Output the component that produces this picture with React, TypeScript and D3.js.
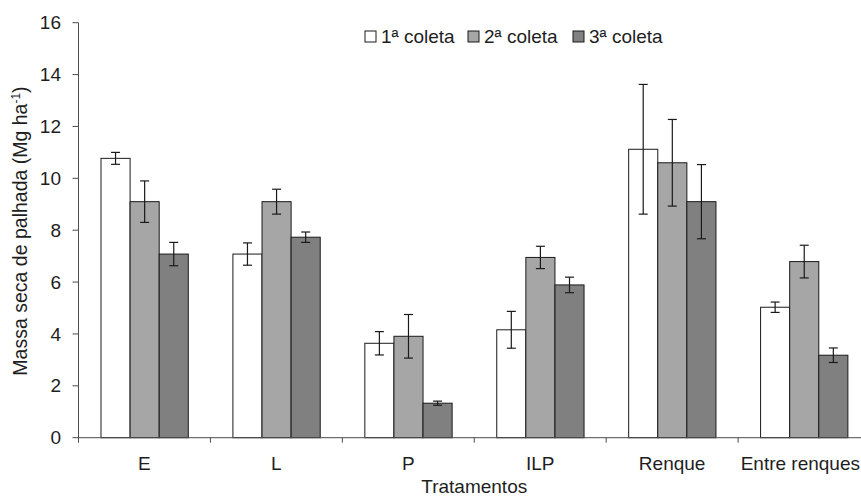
import React from "react";
import * as d3 from "d3";

const categories = ["E", "L", "P", "ILP", "Renque", "Entre renques"];
const seriesNames = ["1ª coleta", "2ª coleta", "3ª coleta"];
const coleta1 = [10.77, 7.08, 3.64, 4.16, 11.12, 5.03];
const coleta1Err = [0.23, 0.43, 0.45, 0.71, 2.5, 0.2];
const coleta2 = [9.1, 9.1, 3.91, 6.95, 10.6, 6.79];
const coleta2Err = [0.8, 0.48, 0.84, 0.43, 1.67, 0.63];
const coleta3 = [7.08, 7.73, 1.33, 5.89, 9.1, 3.18];
const coleta3Err = [0.45, 0.2, 0.08, 0.3, 1.43, 0.28];
const yTicks = [0, 2, 4, 6, 8, 10, 12, 14, 16];

const seriesValues = [coleta1, coleta2, coleta3];
const seriesErrors = [coleta1Err, coleta2Err, coleta3Err];
const fills = ["#ffffff", "#a6a6a6", "#808080"];

const W = 861;
const H = 498;
const FONT = "'Liberation Sans', Arial, sans-serif";
const TEXT = "#1e1e1e";
const AXIS = "#4d4d4d";

export default function App() {
  const x = d3.scaleBand<string>().domain(categories).range([78.5, 870]).padding(0);
  const inner = d3.scaleBand<string>().domain(seriesNames).range([22.5, 22.5 + 87.3]).padding(0);
  const y = d3.scaleLinear().domain([0, 16]).range([437.7, 22.7]);
  const bw = inner.bandwidth();
  const x0 = x.range()[0];
  const legendX = [365, 468, 573];

  return (
    <svg width={W} height={H} style={{ position: "absolute", left: 0, top: 0, background: "#fff" }} fontFamily={FONT}>
      <rect x={0} y={0} width={W} height={H} fill="#fff" />
      {/* y axis */}
      <line x1={x0} x2={x0} y1={y(16)} y2={y(0) + 5} stroke={AXIS} strokeWidth={1} />
      {yTicks.map((t) => (
        <g key={t}>
          <line x1={x0 - 6} x2={x0} y1={y(t)} y2={y(t)} stroke={AXIS} strokeWidth={1} />
          <text x={61} y={y(t)} dy="0.35em" textAnchor="end" fontSize={19} fill={TEXT}>
            {t}
          </text>
        </g>
      ))}
      {/* bars */}
      {categories.map((c, ci) => (
        <g key={c}>
          {seriesNames.map((s, si) => {
            const v = seriesValues[si][ci];
            const bx = (x(c) as number) + (inner(s) as number);
            return (
              <rect
                key={s}
                x={bx}
                y={y(v)}
                width={bw}
                height={y(0) - y(v)}
                fill={fills[si]}
                stroke="#1a1a1a"
                strokeWidth={1}
              />
            );
          })}
          {seriesNames.map((s, si) => {
            const v = seriesValues[si][ci];
            const e = seriesErrors[si][ci];
            const cx = (x(c) as number) + (inner(s) as number) + bw / 2;
            return (
              <g key={s + "e"} stroke="#1a1a1a" strokeWidth={1.2}>
                <line x1={cx} x2={cx} y1={y(v + e)} y2={y(v - e)} />
                <line x1={cx - 4.5} x2={cx + 4.5} y1={y(v + e)} y2={y(v + e)} />
                <line x1={cx - 4.5} x2={cx + 4.5} y1={y(v - e)} y2={y(v - e)} />
              </g>
            );
          })}
        </g>
      ))}
      {/* x axis */}
      <line x1={x0} x2={W} y1={y(0)} y2={y(0)} stroke={AXIS} strokeWidth={1} />
      {categories.map((c) => (
        <line key={c + "t"} x1={(x(c) as number) + x.bandwidth()} x2={(x(c) as number) + x.bandwidth()} y1={y(0)} y2={y(0) + 5} stroke={AXIS} strokeWidth={1} />
      ))}
      {categories.map((c, i) => {
        const last = i === categories.length - 1;
        return (
          <text
            key={c + "l"}
            x={last ? W - 1 : (x(c) as number) + x.bandwidth() / 2}
            y={470}
            textAnchor={last ? "end" : "middle"}
            fontSize={19}
            fill={TEXT}
          >
            {c}
          </text>
        );
      })}
      <text x={(x.range()[0] + x.range()[1]) / 2} y={493} textAnchor="middle" fontSize={19} fill={TEXT}>
        Tratamentos
      </text>
      <text transform={`translate(27, ${231}) rotate(-90)`} textAnchor="middle" fontSize={19.5} fill={TEXT}>
        Massa seca de palhada  (Mg ha
        <tspan fontSize={12} dy={-7}>-1</tspan>
        <tspan dy={7}>)</tspan>
      </text>
      {/* legend */}
      {seriesNames.map((s, i) => (
        <g key={s + "lg"}>
          <rect x={legendX[i]} y={31} width={11} height={11} fill={fills[i]} stroke="#1a1a1a" strokeWidth={1} />
          <text x={legendX[i] + 16} y={43} fontSize={19} fill={TEXT}>
            {s}
          </text>
        </g>
      ))}
    </svg>
  );
}
